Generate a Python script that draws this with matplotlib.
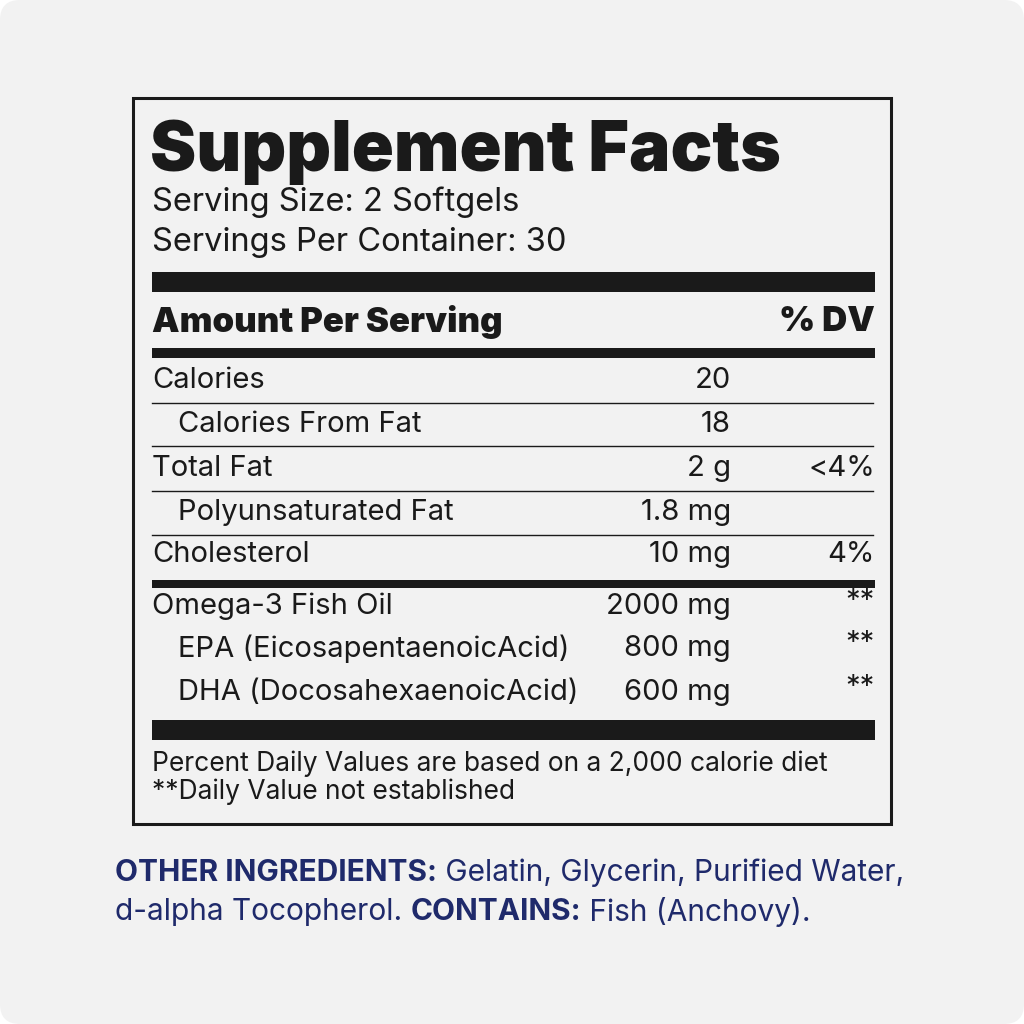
import matplotlib
matplotlib.use("Agg")
import matplotlib.pyplot as plt
from matplotlib.patches import Rectangle, FancyBboxPatch

title = "Supplement Facts"
serving_lines = ["Serving Size: 2 Softgels", "Servings Per Container: 30"]
labels = ["Calories", "Calories From Fat", "Total Fat", "Polyunsaturated Fat", "Cholesterol",
          "Omega-3 Fish Oil", "EPA (EicosapentaenoicAcid)", "DHA (DocosahexaenoicAcid)"]
amounts = ["20", "18", "2 g", "1.8 mg", "10 mg", "2000 mg", "800 mg", "600 mg"]
dvs = ["", "", "<4%", "", "4%", "**", "**", "**"]
indent = [False, True, False, True, False, False, True, True]
row_y = [380, 424, 468, 512, 555, 606, 649, 692]
thin_lines = [403, 446, 491, 535]
footer = ["Percent Daily Values are based on a 2,000 calorie diet", "**Daily Value not established"]

FONT = "Inter"
fig = plt.figure(figsize=(10.24, 10.24), dpi=100)
fig.patch.set_facecolor("white")
ax = fig.add_axes([0, 0, 1, 1])
ax.set_xlim(0, 1024); ax.set_ylim(1024, 0); ax.axis("off")
ax.add_patch(FancyBboxPatch((0, 0), 1024, 1024, boxstyle="round,pad=0,rounding_size=20",
                            fc="#f2f2f2", ec="none"))
ax.add_patch(Rectangle((133, 98), 758, 726, fc="none", ec="#1a1a1a", lw=2.2))
K = "#1a1a1a"
ax.text(150, 152, title, fontsize=50, fontweight="black", family=FONT, color=K, va="center")
for i, s in enumerate(serving_lines):
    ax.text(152, 202 + 41 * i, s, fontsize=23.5, family=FONT, color=K, va="center")
for y0, h in [(272, 20), (348, 10), (580, 8), (720, 20)]:
    ax.add_patch(Rectangle((152, y0), 723, h, fc=K, ec="none"))
ax.text(152, 322, "Amount Per Serving", fontsize=25, fontweight="black", family=FONT, color=K, va="center")
ax.text(875, 322, "% DV", fontsize=25, fontweight="black", family=FONT, color=K, va="center", ha="right")
for y in thin_lines:
    ax.plot([152, 873], [y, y], color=K, lw=1)
for lab, am, dv, ind, y in zip(labels, amounts, dvs, indent, row_y):
    ax.text(178 if ind else 152, y, lab, fontsize=21, family=FONT, color=K, va="center")
    ax.text(731, y, am, fontsize=21, family=FONT, color=K, va="center", ha="right")
    if dv:
        ax.text(875, y - (5 if dv == "**" else 0), dv, fontsize=21, family=FONT, color=K, va="center", ha="right")
for i, s in enumerate(footer):
    ax.text(152, 764 + 28 * i, s, fontsize=19, family=FONT, color=K, va="center")
NAVY = "#1f2a6b"
FS = 21.5
t1 = ax.text(115, 873, "OTHER INGREDIENTS:", fontsize=FS, fontweight="bold", family=FONT, color=NAVY, va="center")
ax.annotate(" Gelatin, Glycerin, Purified Water,", xycoords=t1, xy=(1, 0.5), va="center",
            fontsize=FS, family=FONT, color=NAVY)
t2 = ax.text(115, 912, "d-alpha Tocopherol. ", fontsize=FS, family=FONT, color=NAVY, va="center")
t3 = ax.annotate("CONTAINS:", xycoords=t2, xy=(1, 0.5), va="center", fontsize=FS,
                 fontweight="bold", family=FONT, color=NAVY)
ax.annotate(" Fish (Anchovy).", xycoords=t3, xy=(1, 0.5), va="center", fontsize=FS, family=FONT, color=NAVY)
fig.savefig("out.png", dpi=100, facecolor="white")
